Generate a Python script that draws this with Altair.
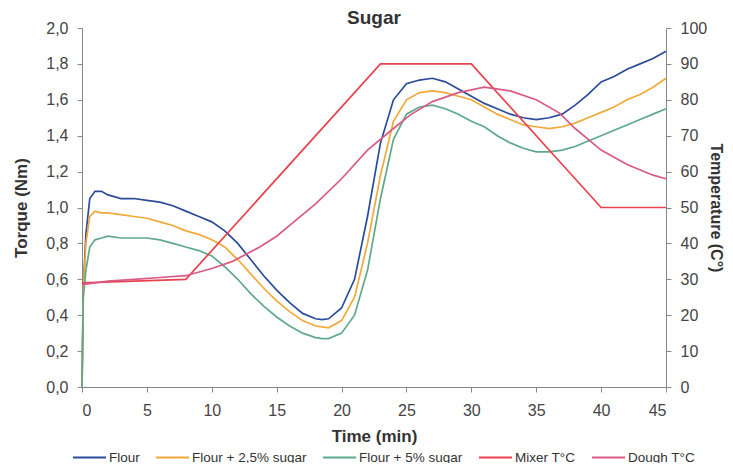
import altair as alt
import pandas as pd

# ---- data ----
torque_time = [0, 0.1, 0.3, 0.6, 1, 1.5, 2, 3, 4, 5, 6, 7, 8, 9, 10, 11, 12, 13, 14, 15,
               16, 17, 18, 18.5, 19, 20, 21, 22, 23, 24, 25, 26, 27, 28, 29, 30, 31, 32,
               33, 34, 35, 36, 37, 38, 39, 40, 41, 42, 43, 44, 45]
flour = [0, 0.55, 0.85, 1.05, 1.09, 1.09, 1.07, 1.05, 1.05, 1.04, 1.03, 1.01, 0.98, 0.95,
         0.92, 0.87, 0.80, 0.71, 0.62, 0.54, 0.47, 0.41, 0.38, 0.375, 0.38, 0.44, 0.60,
         0.95, 1.36, 1.60, 1.69, 1.71, 1.72, 1.70, 1.66, 1.62, 1.58, 1.55, 1.52, 1.50,
         1.49, 1.50, 1.52, 1.57, 1.63, 1.70, 1.73, 1.77, 1.80, 1.83, 1.87]
sugar_25 = [0, 0.55, 0.80, 0.95, 0.98, 0.97, 0.97, 0.96, 0.95, 0.94, 0.92, 0.90, 0.87,
            0.85, 0.82, 0.78, 0.71, 0.63, 0.55, 0.48, 0.42, 0.37, 0.34, 0.335, 0.33,
            0.37, 0.50, 0.80, 1.18, 1.48, 1.60, 1.64, 1.65, 1.64, 1.62, 1.60, 1.56, 1.52,
            1.49, 1.46, 1.45, 1.44, 1.45, 1.47, 1.50, 1.53, 1.56, 1.60, 1.63, 1.67, 1.72]
sugar_5 = [0, 0.50, 0.65, 0.78, 0.82, 0.83, 0.84, 0.83, 0.83, 0.83, 0.82, 0.80, 0.78,
           0.76, 0.73, 0.67, 0.60, 0.52, 0.45, 0.39, 0.34, 0.30, 0.275, 0.27, 0.27,
           0.30, 0.40, 0.65, 1.05, 1.38, 1.52, 1.56, 1.57, 1.55, 1.52, 1.48, 1.45, 1.40,
           1.36, 1.33, 1.31, 1.31, 1.32, 1.34, 1.37, 1.40, 1.43, 1.46, 1.49, 1.52, 1.55]

mixer_time = [0, 8, 23, 30, 40, 45]
mixer_temp = [29, 30, 90, 90, 50, 50]

dough_time = [0, 2, 4, 6, 8, 10, 11.6, 13.7, 15, 16, 18, 20, 22, 24, 25.3, 27, 29, 31,
              33, 35, 36.8, 38, 40, 42, 44, 45]
dough_temp = [28.5, 29.5, 30, 30.5, 31, 33, 35, 39, 42, 45, 51, 58, 66, 72, 75.8, 79.5,
              82, 83.5, 82.5, 80, 76.3, 72, 66, 62, 59, 58]

series = ["Flour", "Flour + 2,5% sugar", "Flour + 5% sugar", "Mixer T°C", "Dough T°C"]
colors = ["#2b4c9b", "#f2a93b", "#5fa98a", "#e8434f", "#d95a86"]

rows = []
for name, vals in zip(series[:3], [flour, sugar_25, sugar_5]):
    for t, v in zip(torque_time, vals):
        rows.append({"t": t, "v": v, "s": name})
torque_df = pd.DataFrame(rows)

rows = []
for t, v in zip(mixer_time, mixer_temp):
    rows.append({"t": t, "v": v, "s": series[3]})
for t, v in zip(dough_time, dough_temp):
    rows.append({"t": t, "v": v, "s": series[4]})
temp_df = pd.DataFrame(rows)

FONT = "Liberation Sans"
color = alt.Color(
    "s:N",
    scale=alt.Scale(domain=series, range=colors),
    sort=series,
    legend=alt.Legend(
        title=None, orient="none", direction="horizontal", legendX=-10, legendY=412,
        padding=0, symbolType="stroke", symbolSize=1089, symbolStrokeWidth=2,
        labelFontSize=13.5, labelFont=FONT, labelColor="#333", labelOffset=2,
        columnPadding=12,
    ),
)

x = alt.X(
    "t:Q",
    scale=alt.Scale(domain=[0, 45], nice=False, zero=False),
    axis=alt.Axis(values=list(range(0, 46, 5)), title="Time (min)", grid=False,
                  labelFontSize=16, titleFontSize=17, titleFontWeight="bold",
                  labelFont=FONT, titleFont=FONT, labelColor="#444", titleColor="#333",
                  domainColor="#888", tickColor="#888", tickSize=5, labelPadding=10,
                  titlePadding=10),
)

left = alt.Chart(torque_df).mark_line(strokeWidth=1.7).encode(
    x=x,
    y=alt.Y("v:Q", scale=alt.Scale(domain=[0, 2]),
            axis=alt.Axis(orient="left", values=[i / 10 for i in range(0, 21, 2)],
                          labelExpr="replace(format(datum.value, '.1f'), '.', ',')",
                          title="Torque (Nm)", grid=False, labelFontSize=16,
                          titleFontSize=17, titleFontWeight="bold", labelFont=FONT,
                          titleFont=FONT, labelColor="#444", titleColor="#333",
                          domainColor="#888", tickColor="#888", tickSize=5,
                          labelPadding=9, titlePadding=15)),
    color=color,
    order="t:Q",
)

right = alt.Chart(temp_df).mark_line(strokeWidth=1.7).encode(
    x=x,
    y=alt.Y("v:Q", scale=alt.Scale(domain=[0, 100]),
            axis=alt.Axis(orient="right", values=list(range(0, 101, 10)),
                          title="Temperature (C°)", grid=False, labelFontSize=16,
                          titleFontSize=16, titleFontWeight="bold", labelFont=FONT,
                          titleFont=FONT, labelColor="#444", titleColor="#333",
                          domainColor="#888", tickColor="#888", tickSize=5,
                          labelPadding=9, titlePadding=1)),
    color=color,
    order="t:Q",
)

chart = alt.layer(left, right).resolve_scale(y="independent").properties(
    width=584, height=359,
    title=alt.TitleParams("Sugar", fontSize=19, fontWeight="bold", font=FONT,
                          color="#333", anchor="middle", frame="group", offset=0,
                          dy=8),
    autosize=alt.AutoSizeParams(type="none"),
    padding={"left": 74, "top": 20, "right": 59, "bottom": 76},
).configure_view(stroke=None)

chart.save("out.html", embed_options={"renderer": "svg", "actions": False})
